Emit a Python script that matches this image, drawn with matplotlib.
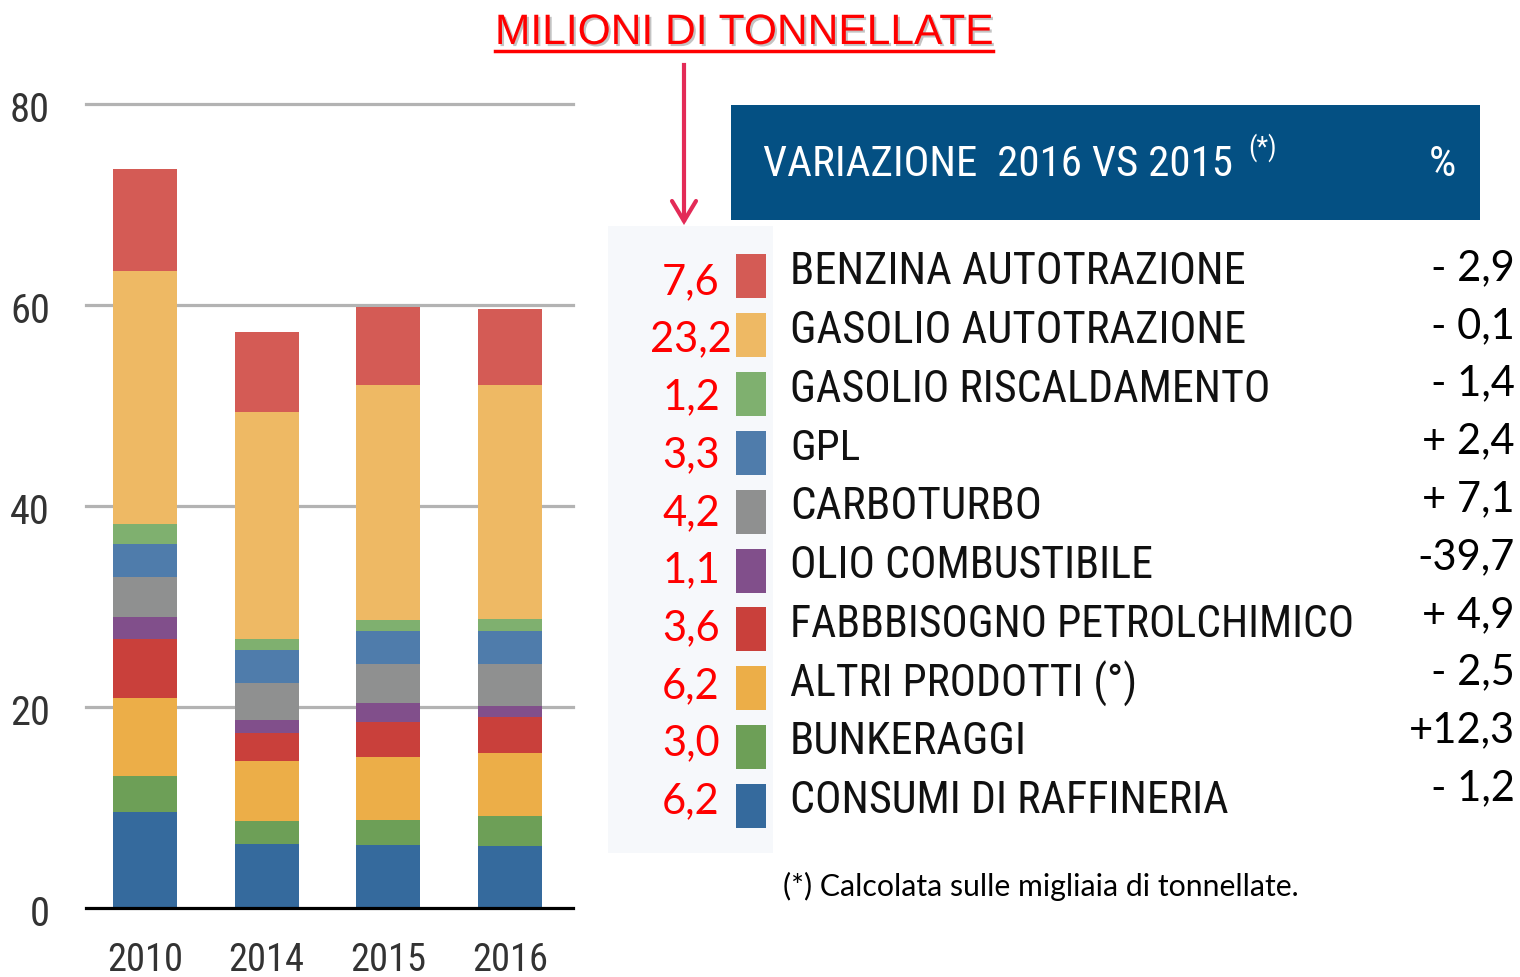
import matplotlib
matplotlib.use("Agg")
import matplotlib.pyplot as plt
import matplotlib.patheffects as pe
from matplotlib.patches import Rectangle
from matplotlib import font_manager as fm
import numpy as np

# ---------------- data ----------------
years = ["2010", "2014", "2015", "2016"]
categories = ["BENZINA AUTOTRAZIONE", "GASOLIO AUTOTRAZIONE", "GASOLIO RISCALDAMENTO",
              "GPL", "CARBOTURBO", "OLIO COMBUSTIBILE", "FABBBISOGNO PETROLCHIMICO",
              "ALTRI PRODOTTI (°)", "BUNKERAGGI", "CONSUMI DI RAFFINERIA"]
# values per category (top to bottom of legend), for 2010, 2014, 2015, 2016
benzina      = [10.1, 7.9, 7.8, 7.6]
gasolio_auto = [25.2, 22.6, 23.3, 23.2]
gasolio_risc = [2.0, 1.1, 1.1, 1.2]
gpl          = [3.3, 3.3, 3.3, 3.3]
carboturbo   = [3.9, 3.7, 3.9, 4.2]
olio_comb    = [2.2, 1.3, 1.9, 1.1]
petrolchim   = [5.9, 2.8, 3.5, 3.6]
altri        = [7.8, 5.9, 6.2, 6.2]
bunkeraggi   = [3.5, 2.3, 2.5, 3.0]
raffineria   = [9.6, 6.4, 6.3, 6.2]
series = [benzina, gasolio_auto, gasolio_risc, gpl, carboturbo, olio_comb,
          petrolchim, altri, bunkeraggi, raffineria]
labels_2016 = ["7,6", "23,2", "1,2", "3,3", "4,2", "1,1", "3,6", "6,2", "3,0", "6,2"]
variazione = ["- 2,9", "- 0,1", "- 1,4", "+ 2,4", "+ 7,1", "-39,7", "+ 4,9", "- 2,5", "+12,3", "- 1,2"]
yticks = [0, 20, 40, 60, 80]

colors = ["#d45b55", "#eeb964", "#7fb06f", "#4f7cab", "#8f9090", "#814f8b",
          "#c9403b", "#ecae48", "#6d9f57", "#356a9d"]

W, H = 1520, 977
fig = plt.figure(figsize=(W / 100, H / 100), dpi=100)
fig.patch.set_facecolor("white")

def fx(x):
    return x / W

def fy(y):
    return 1 - y / H

installed = {f.name for f in fm.fontManager.ttflist}
cond_pref = [f for f in ["Roboto Condensed", "Liberation Sans Narrow", "Open Sans Condensed",
                         "DejaVu Sans Condensed"] if f in installed]
COND = cond_pref + ["DejaVu Sans"]
CAL = ["Lato", "DejaVu Sans"]
STRETCH = "condensed"

renderer = fig.canvas.get_renderer()

def fit(t, target_w):
    """scale font so that rendered width matches target width (in px)."""
    for _ in range(3):
        w = t.get_window_extent(renderer).width
        if w > 0:
            t.set_fontsize(t.get_fontsize() * target_w / w)

# ---------------- bar chart ----------------
ax = fig.add_axes([fx(86), fy(908), fx(573) - fx(86), fy(104) - fy(908)])
x = np.arange(len(years))
bottom = np.zeros(len(years))
for vals, col in zip(series[::-1], colors[::-1]):
    ax.bar(x, vals, width=0.525, bottom=bottom, color=col, zorder=3, linewidth=0)
    bottom += np.array(vals)
ax.set_xlim(-0.484, 3.516)
ax.set_ylim(0, 80)
for t in yticks[1:]:
    ax.axhline(t, color="#b3b3b3", lw=2.3, zorder=1, clip_on=False)
ax.axhline(0, color="black", lw=2.3, zorder=4, clip_on=False)
for s in ax.spines.values():
    s.set_visible(False)
ax.set_yticks(yticks)
ax.set_xticks(x)
ax.set_yticklabels([])
ax.set_xticklabels([])
ax.tick_params(length=0)
for t in yticks:
    tt = ax.text(-36 / (573 - 86), t - 0.6, str(t), transform=ax.get_yaxis_transform(),
                 family=COND, fontstretch=STRETCH, fontsize=30, color="#333333",
                 ha="right", va="center")
    fit(tt, 20 * len(str(t)))
for i, yr in enumerate(years):
    tt = ax.text(i, -0.042, yr, transform=ax.get_xaxis_transform(), family=COND,
                 fontstretch=STRETCH, fontsize=31, color="#333333", ha="center", va="top")
    fit(tt, 76)

# ---------------- title and arrow ----------------
shadow = [pe.withSimplePatchShadow(offset=(1.5, -1.5), shadow_rgbFace="#888888", alpha=0.5)]
title = fig.text(fx(744), fy(33), "MILIONI DI TONNELLATE", color="red", fontsize=31,
                 family=["Liberation Sans", "DejaVu Sans"], ha="center", va="center",
                 path_effects=shadow)
fit(title, 498)
fig.add_artist(plt.Line2D([fx(495), fx(993)], [fy(51), fy(51)], color="red", lw=2.5,
                          path_effects=shadow))
fig.add_artist(plt.Line2D([fx(684), fx(684)], [fy(65), fy(220)], color="#e32b57", lw=3))
fig.add_artist(plt.Line2D([fx(672), fx(684), fx(696)], [fy(201), fy(221), fy(201)],
                          color="#e32b57", lw=3, solid_capstyle="round", solid_joinstyle="miter"))

# ---------------- header box ----------------
fig.add_artist(Rectangle((fx(731), fy(220)), fx(1480) - fx(731), fy(105) - fy(220),
                         transform=fig.transFigure, facecolor="#045083", edgecolor="none"))
hdr = fig.text(fx(763), fy(164), "VARIAZIONE  2016 VS 2015", color="white", fontsize=31,
               family=COND, fontstretch=STRETCH, ha="left", va="center")
fit(hdr, 470)
fig.text(fx(1248), fy(148), "(*)", color="white", fontsize=hdr.get_fontsize() * 0.62,
         family=COND, fontstretch=STRETCH, ha="left", va="center")
fig.text(fx(1456), fy(164), "%", color="white", fontsize=hdr.get_fontsize(), family=COND,
         fontstretch=STRETCH, ha="right", va="center")

# ---------------- legend panel ----------------
fig.add_artist(Rectangle((fx(608), fy(853)), fx(773) - fx(608), fy(226) - fy(853),
                         transform=fig.transFigure, facecolor="#f6f8fb", edgecolor="none", zorder=0))
label_widths = [455, 457, 480, 70, 252, 362, 565, 348, 237, 438]
n = len(categories)
for i in range(n):
    yv = 282 + i * 57.7
    fig.text(fx(691), fy(yv), labels_2016[i], color="red", fontsize=30, family=CAL,
             ha="center", va="center")
    ys = 276 + i * 58.9
    fig.add_artist(Rectangle((fx(736), fy(ys + 22)), fx(766) - fx(736), fy(ys - 22) - fy(ys + 22),
                             transform=fig.transFigure, facecolor=colors[i], edgecolor="none"))
    yl = 272 + i * 58.8
    tl = fig.text(fx(790), fy(yl), categories[i], color="#111111", fontsize=33, family=COND,
                  fontstretch=STRETCH, ha="left", va="center")
    fit(tl, label_widths[i])
    yp = 268 + i * 57.8
    fig.text(fx(1515), fy(yp), variazione[i], color="black", fontsize=30, family=CAL,
             ha="right", va="center")

foot = fig.text(fx(783), fy(886), "(*) Calcolata sulle migliaia di tonnellate.", color="black",
                fontsize=19, family=CAL, ha="left", va="center")
fit(foot, 515)

fig.savefig("out.png", dpi=100)
